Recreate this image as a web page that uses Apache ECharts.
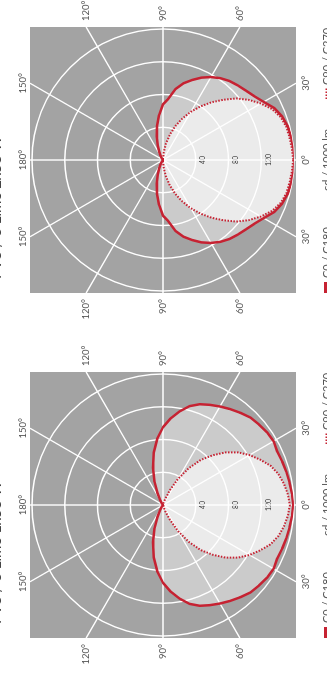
<!DOCTYPE html>
<html><head><meta charset="utf-8">
<script src="https://cdn.jsdelivr.net/npm/echarts@6/dist/echarts.min.js"></script>
<style>
html,body{margin:0;padding:0;width:327px;height:682px;overflow:hidden;background:#fff;}
#chart{position:absolute;left:0;top:0;width:682px;height:327px;transform-origin:0 0;transform:translate(0,682px) rotate(-90deg);}
</style></head><body><div id="chart"></div>
<script>
// ---- data ----
const gammas = [0,5,10,15,20,25,30,35,40,45,50,55,60,65,70,75,80,85,90,95,100,105,110,115,120,125,130,135,140,145,150,155,160,165,170,175,180];
const titles = ['PV8 / 3 Lime 1x58 W', 'PV8 / 3 Lime 2x58 W'];
// left diagram (bottom of the rotated picture)
const leftC0C180 = [159,158,157,156,155,154,156,155,153,151,147,143,139,135,131,125,116,106,95,81,65,47,30,16,7,3,1,0,0,0,0,0,0,0,0,0,0];
const leftC90C270 = [155,153,150,146,140,131,122,112,100,86,72,55,37,20,8,2,0,0,0,0,0,0,0,0,0,0,0,0,0,0,0,0,0,0,0,0,0];
// right diagram (top of the rotated picture)
const rightC0C180 = [161,160,159,158,155,150,142,136,132,129,126,122,117,111,104,97,88,75,68,55,42,30,19,11,6,3,1,0,0,0,0,0,0,0,0,0,0];
const rightC90C270 = [159,158,157,156,153,147,138,128,117,104,92,80,68,56,44,32,20,9,2,0,0,0,0,0,0,0,0,0,0,0,0,0,0,0,0,0,0];
const ringTicks = [40, 80, 120, 160];
const ringLabels = ['40', '80', '120', ''];
const spokeAngles = [0,30,60,90,120,150,180,210,240,270,300,330];
const spokeLabels = ['0°','30°','60°','90°','120°','150°','180°','150°','120°','90°','60°','30°'];
const legendLabels = ['C0 / C180', 'cd / 1000 lm', 'C90 / C270'];

// ---- layout ----
const W = 682, H = 327;
const centers = [[177, 163], [522, 163]];
const R = 131, HALF = 133;
const RED = '#c62232';
const FONT = 'Lato, "Open Sans", sans-serif';

function fullCurve(vals) {
  const pts = gammas.map((g, i) => [vals[i], g]);
  for (let i = gammas.length - 2; i >= 0; i--) pts.push([vals[i], 360 - gammas[i]]);
  return pts;
}

function bgRender(params, api) {
  const c = api.coord([0, 0]);
  return { type: 'rect', shape: { x: c[0] - HALF, y: c[1] - HALF, width: 2 * HALF, height: 2 * HALF }, style: { fill: '#a3a3a3' } };
}
function ringRender(params, api) {
  const c = api.coord([0, 0]);
  const p = api.coord([api.value(0), 0]);
  const dx = p[0] - c[0], dy = p[1] - c[1];
  const rr = Math.hypot(dx, dy);
  const ux = dx / rr, uy = dy / rr;
  const lab = ringLabels[params.dataIndex];
  return { type: 'group', children: [
    { type: 'circle', shape: { cx: c[0], cy: c[1], r: rr }, style: { fill: null, stroke: '#ffffff', lineWidth: 1.4 } },
    { type: 'text', x: c[0] + ux * (rr + 7), y: c[1] + uy * (rr + 7), style: { text: lab, fill: '#333', font: '7px ' + FONT, align: 'center', verticalAlign: 'middle' } }
  ]};
}
function spokeRender(params, api) {
  const c = api.coord([0, 0]);
  const p = api.coord([api.value(0), api.value(1)]);
  let ux = p[0] - c[0], uy = p[1] - c[1];
  const len = Math.hypot(ux, uy); ux /= len; uy /= len;
  if (Math.abs(ux) < 1e-9) ux = 0; if (Math.abs(uy) < 1e-9) uy = 0;
  const t = HALF / Math.max(Math.abs(ux), Math.abs(uy));
  const ex = c[0] + ux * t, ey = c[1] + uy * t;
  let tx, ty, align, va = 'middle';
  if (Math.abs(uy) > Math.abs(ux)) {
    tx = ex; align = 'center';
    ty = uy > 0 ? ey + 10 : ey - 7;
  } else {
    ty = ey;
    if (ux > 0) { tx = ex + 6; align = 'left'; } else { tx = ex - 6; align = 'right'; }
  }
  return { type: 'group', children: [
    { type: 'line', shape: { x1: c[0], y1: c[1], x2: ex, y2: ey }, style: { stroke: '#ffffff', lineWidth: 1.4 } },
    { type: 'text', x: tx, y: ty, style: { text: spokeLabels[params.dataIndex], fill: '#555', font: '9.5px ' + FONT, align: align, verticalAlign: va } }
  ]};
}

const datasets = [[leftC0C180, leftC90C270], [rightC0C180, rightC90C270]];
const series = [];
const graphics = [];
centers.forEach((c, i) => {
  series.push({ type: 'custom', coordinateSystem: 'polar', polarIndex: i, z: 1, silent: true, renderItem: bgRender, data: [[0, 0]] });
  series.push({ type: 'line', coordinateSystem: 'polar', polarIndex: i, z: 2, silent: true, showSymbol: false, lineStyle: { width: 0 }, areaStyle: { color: '#cbcbcb', opacity: 1 }, data: fullCurve(datasets[i][0]) });
  series.push({ type: 'line', coordinateSystem: 'polar', polarIndex: i, z: 2, silent: true, showSymbol: false, lineStyle: { width: 0 }, areaStyle: { color: '#ebebeb', opacity: 1 }, data: fullCurve(datasets[i][1]) });
  series.push({ type: 'custom', coordinateSystem: 'polar', polarIndex: i, z: 3, silent: true, renderItem: ringRender, data: ringTicks.map(r => [r, 0]) });
  series.push({ type: 'custom', coordinateSystem: 'polar', polarIndex: i, z: 3, silent: true, renderItem: spokeRender, data: spokeAngles.map(a => [160, a]) });
  series.push({ name: legendLabels[2], type: 'line', coordinateSystem: 'polar', polarIndex: i, z: 4, silent: true, showSymbol: false, lineStyle: { color: RED, width: 2, type: [1.5, 1.5] }, data: fullCurve(datasets[i][1]) });
  series.push({ name: legendLabels[0], type: 'line', coordinateSystem: 'polar', polarIndex: i, z: 5, silent: true, showSymbol: false, lineStyle: { color: RED, width: 2.5 }, data: fullCurve(datasets[i][0]) });

  const cx = c[0];
  graphics.push({ type: 'text', left: cx - 119, top: -11, style: { text: titles[i], fill: '#444', font: '15px ' + FONT } });
  graphics.push({ type: 'rect', shape: { x: cx - 133, y: 324, width: 11, height: 11 }, style: { fill: RED } });
  graphics.push({ type: 'text', x: cx - 118, y: 322, style: { text: legendLabels[0], fill: '#555', font: '11px ' + FONT, verticalAlign: 'top' } });
  graphics.push({ type: 'text', x: cx, y: 322, style: { text: legendLabels[1], fill: '#555', font: '11px ' + FONT, align: 'center', verticalAlign: 'top' } });
  graphics.push({ type: 'line', shape: { x1: cx + 61, y1: 327, x2: cx + 73, y2: 327 }, style: { stroke: RED, lineWidth: 3, lineDash: [1.5, 1.5] } });
  graphics.push({ type: 'text', x: cx + 75, y: 322, style: { text: legendLabels[2], fill: '#555', font: '11px ' + FONT, verticalAlign: 'top' } });
});

const chart = echarts.init(document.getElementById('chart'), null, { width: W, height: H });
chart.setOption({
  animation: false,
  backgroundColor: '#ffffff',
  polar: centers.map(c => ({ center: c, radius: R })),
  angleAxis: centers.map((c, i) => ({ polarIndex: i, type: 'value', min: 0, max: 360, startAngle: -90, clockwise: true, axisLine: { show: false }, axisTick: { show: false }, axisLabel: { show: false }, splitLine: { show: false } })),
  radiusAxis: centers.map((c, i) => ({ polarIndex: i, type: 'value', min: 0, max: 160, axisLine: { show: false }, axisTick: { show: false }, axisLabel: { show: false }, splitLine: { show: false } })),
  graphic: graphics,
  series: series
});
</script></body></html>
